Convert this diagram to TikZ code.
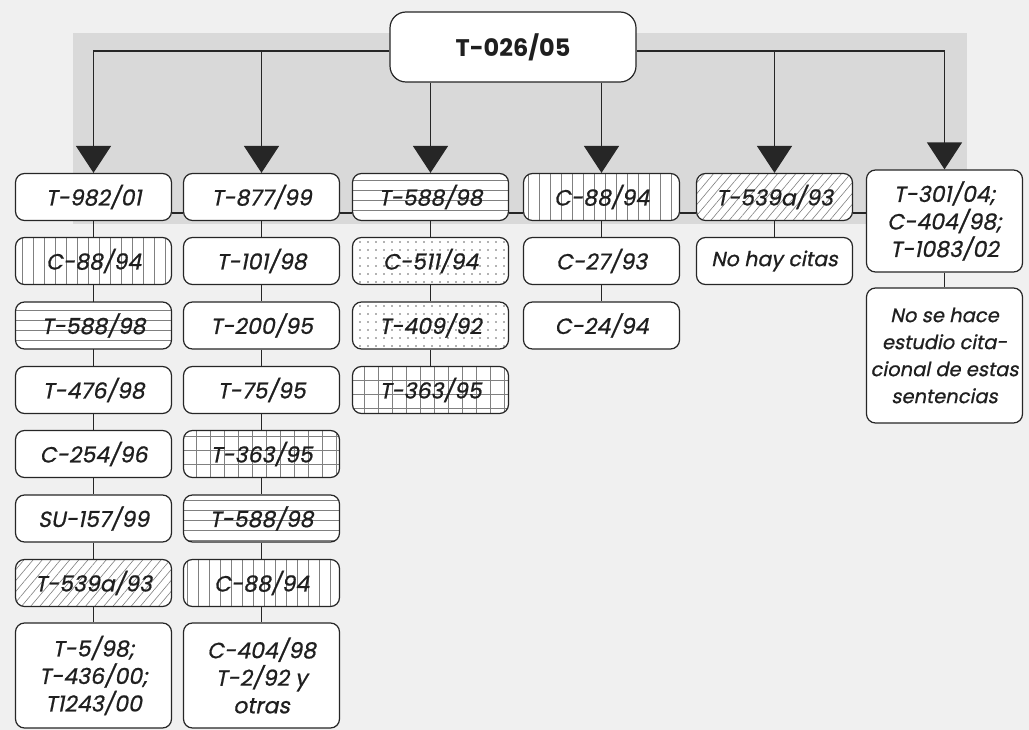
\documentclass[tikz,border=0pt]{standalone}
\usepackage{fontspec}
\setmainfont{Poppins}
\newfontfamily\popit{Poppins}[FakeSlant=0.2,FakeBold=0.8]
\usetikzlibrary{arrows.meta,patterns.meta}
\begin{document}
\begin{tikzpicture}[x=1pt,y=-1pt,
  box/.style={draw=black!85, line width=1.2pt, rounded corners=9pt, fill=white,
    minimum width=156pt, minimum height=47pt, inner sep=0pt, align=center,
    font=\popit\fontsize{22}{27.5}\selectfont, text=black!88},
  topbox/.style={box, font=\bfseries\fontsize{24}{28}\selectfont,
    minimum width=246pt, minimum height=70pt, rounded corners=16pt},
  conn/.style={draw=black!85, line width=1.3pt},
  arr/.style={conn, -{Triangle[width=35pt,length=27pt]}},
  hl/.style={preaction={fill=white}, pattern={Lines[angle=0,distance=10pt,line width=0.6pt]}, pattern color=black!50},
  vl/.style={preaction={fill=white}, pattern={Lines[angle=90,distance=11pt,line width=0.6pt]}, pattern color=black!50},
  gr/.style={preaction={fill=white}, pattern={Hatch[angle=0,distance=14pt,line width=0.6pt]}, pattern color=black!50},
  dt/.style={preaction={fill=white}, pattern={Dots[distance=8pt,radius=0.9pt]}, pattern color=black!60},
  dl/.style={preaction={fill=white}, pattern={Lines[angle=50,distance=7pt,line width=0.6pt]}, pattern color=black!50}
]
\useasboundingbox (0,0) rectangle (1029,730);
\fill[black!6] (0,0) rectangle (1029,730);
\fill[black!15] (73,33) rectangle (967,224);

% top
\node[topbox] (top) at (513,47) {T-026/05};

% column 1
\node[box] (a1) at (93.5,197) {T-982/01};
\node[box,vl] (a2) at (93.5,261) {C-88/94};
\node[box,hl] (a3) at (93.5,325.5) {T-588/98};
\node[box] (a4) at (93.5,390) {T-476/98};
\node[box] (a5) at (93.5,454) {C-254/96};
\node[box] (a6) at (93.5,518.5) {SU-157/99};
\node[box,dl] (a7) at (93.5,583) {T-539a/93};
\node[box,minimum height=105pt] (a8) at (93.5,675.5) {T-5/98;\\T-436/00;\\T1243/00};

% column 2
\node[box] (b1) at (261.5,197) {T-877/99};
\node[box] (b2) at (261.5,261) {T-101/98};
\node[box] (b3) at (261.5,325.5) {T-200/95};
\node[box] (b4) at (261.5,390) {T-75/95};
\node[box,gr] (b5) at (261.5,454) {T-363/95};
\node[box,hl] (b6) at (261.5,518.5) {T-588/98};
\node[box,vl] (b7) at (261.5,583) {C-88/94};
\node[box,minimum height=105pt] (b8) at (261.5,675.5) {C-404/98\\T-2/92 y\\otras};

% column 3
\node[box,hl] (c1) at (430.5,197) {T-588/98};
\node[box,dt] (c2) at (430.5,261) {C-511/94};
\node[box,dt] (c3) at (430.5,325.5) {T-409/92};
\node[box,gr] (c4) at (430.5,390) {T-363/95};

% column 4
\node[box,vl] (d1) at (601.5,197) {C-88/94};
\node[box] (d2) at (601.5,261) {C-27/93};
\node[box] (d3) at (601.5,325.5) {C-24/94};

% column 5
\node[box,dl] (e1) at (774.5,197) {T-539a/93};
\node[box,font=\popit\fontsize{20.5}{27.5}\selectfont] (e2) at (774.5,261) {No hay citas};

% column 6
\node[box,minimum height=102pt] (f1) at (944.5,221) {T-301/04;\\C-404/98;\\T-1083/02};
\node[box,minimum height=135pt,font=\popit\fontsize{19.5}{27}\selectfont] (f2) at (944.5,355.5) {No se hace\\estudio cita-\\cional de estas\\sentencias};

% arrows from top
\coordinate (jl) at (261.5,51);
\coordinate (jr) at (774.5,51);
\draw[arr] ([yshift=-4pt]top.west) -| (a1.north);
\draw[arr] (jl) -- (b1.north);
\draw[arr] (top.south -| c1.north) -- (c1.north);
\draw[arr] (top.south -| d1.north) -- (d1.north);
\draw[arr] ([yshift=-4pt]top.east) -| (f1.north);
\draw[arr] (jr) -- (e1.north);

% row 1 horizontal link
\draw[conn] ([yshift=-16pt]a1.east) -- ([yshift=-16pt]b1.west);
\draw[conn] ([yshift=-16pt]b1.east) -- ([yshift=-16pt]c1.west);
\draw[conn] ([yshift=-16pt]c1.east) -- ([yshift=-16pt]d1.west);
\draw[conn] ([yshift=-16pt]d1.east) -- ([yshift=-16pt]e1.west);
\draw[conn] ([yshift=-16pt]e1.east) -- ([yshift=-16pt]e1.east -| f1.west);

% column connectors
\foreach \u/\v in {a1/a2,a2/a3,a3/a4,a4/a5,a5/a6,a6/a7,a7/a8,
                   b1/b2,b2/b3,b3/b4,b4/b5,b5/b6,b6/b7,b7/b8,
                   c1/c2,c2/c3,c3/c4,d1/d2,d2/d3,e1/e2,f1/f2}
  \draw[conn] (\u) -- (\v);
\end{tikzpicture}
\end{document}
